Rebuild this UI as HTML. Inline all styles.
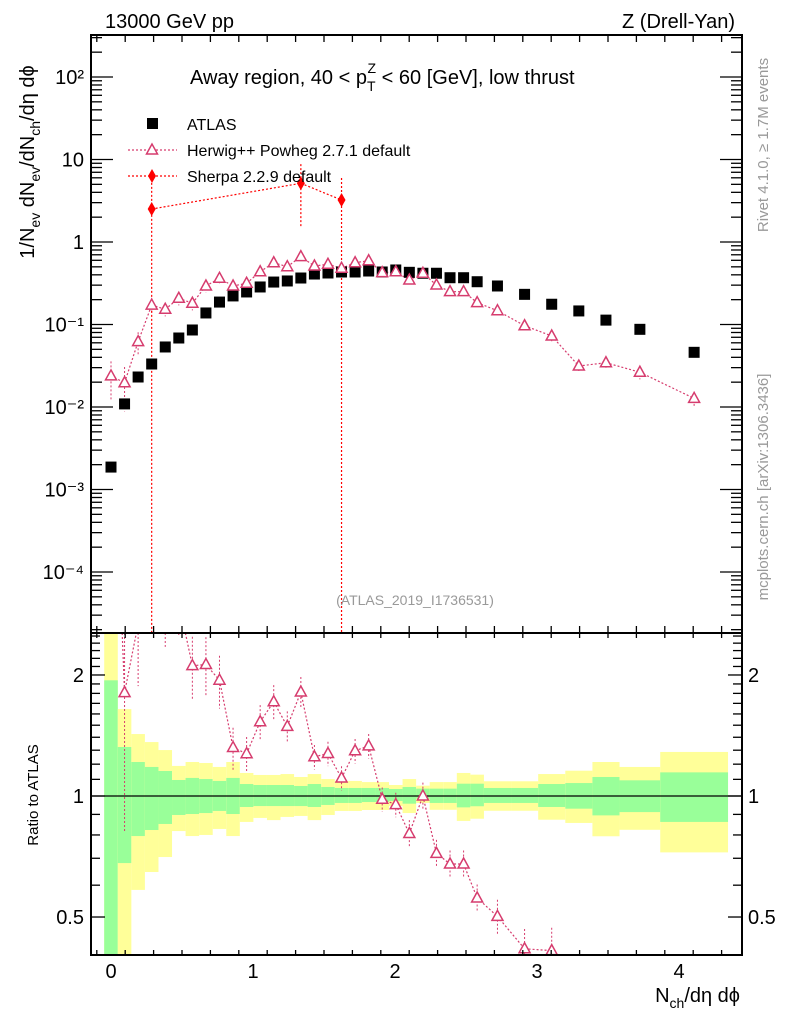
<!DOCTYPE html>
<html><head><meta charset="utf-8"><style>
html,body{margin:0;padding:0;background:#fff;width:786px;height:1024px;overflow:hidden;}
svg{display:block;font-family:"Liberation Sans",Arial,sans-serif;}
</style></head><body>
<svg id="chart" width="786" height="1024" viewBox="0 0 786 1024" xmlns="http://www.w3.org/2000/svg">
<rect x="0" y="0" width="786" height="1024" fill="#fff"/>
<g id="bands"></g>
<g id="marks"></g>
<g id="axes"></g>
<text x="105" y="28" font-size="20">13000 GeV pp</text>
<text x="735" y="28" font-size="20" text-anchor="end">Z (Drell-Yan)</text>
<text x="190" y="84" font-size="20">Away region, 40 &lt; p<tspan font-size="14" dy="7">T</tspan><tspan font-size="14" dx="-8" dy="-18">Z</tspan><tspan dy="11"> &lt; 60 [GeV], low thrust</tspan></text>
<text x="415" y="605" font-size="14" fill="#999" text-anchor="middle">(ATLAS_2019_I1736531)</text>
<text transform="translate(768,145) rotate(-90)" font-size="15" fill="#999" text-anchor="middle">Rivet 4.1.0, ≥ 1.7M events</text>
<text transform="translate(768,487) rotate(-90)" font-size="15" fill="#999" text-anchor="middle">mcplots.cern.ch [arXiv:1306.3436]</text>
<text transform="translate(34,162) rotate(-90)" font-size="20" text-anchor="middle">1/N<tspan font-size="14" dy="6">ev</tspan><tspan dy="-6"> dN</tspan><tspan font-size="14" dy="6">ev</tspan><tspan dy="-6">/dN</tspan><tspan font-size="14" dy="6">ch</tspan><tspan dy="-6">/dη dϕ</tspan></text>
<text transform="translate(38,795) rotate(-90)" font-size="15" text-anchor="middle">Ratio to ATLAS</text>
<text x="740" y="1002" font-size="20" text-anchor="end">N<tspan font-size="14" dy="6">ch</tspan><tspan dy="-6">/dη dϕ</tspan></text>
<g>
<rect x="147" y="118" width="11" height="11" fill="#000"/>
<text x="187" y="130" font-size="16">ATLAS</text>
<line x1="128" y1="150" x2="177" y2="150" stroke="#d63c6e" stroke-width="1.2" stroke-dasharray="2,2"/>
<path d="M152,144 L146.5,154 L157.5,154 Z" fill="#fff" stroke="#d63c6e" stroke-width="1.5"/>
<text x="187" y="156" font-size="16">Herwig++ Powheg 2.7.1 default</text>
<line x1="128" y1="176" x2="177" y2="176" stroke="#f00" stroke-width="1.2" stroke-dasharray="2,2"/>
<path d="M152,169 L156,176 L152,183 L148,176 Z" fill="#f00"/>
<text x="187" y="182" font-size="16">Sherpa 2.2.9 default</text>
</g>
</svg>
<script>
// ---- data ----
const atlasX = [0,0.0955,0.191,0.2865,0.382,0.4775,0.573,0.6685,0.764,0.8595,0.955,1.0505,1.146,1.2415,1.337,1.4325,1.528,1.6235,1.719,1.8145,1.91,2.0055,2.101,2.1965,2.292,2.3875,2.483,2.5785,2.7215,2.9125,3.1035,3.2945,3.4855,3.7245,4.1065];
const binLo = [-0.0478,0.0478,0.1433,0.2388,0.3343,0.4298,0.5253,0.6208,0.7163,0.8118,0.9073,1.0028,1.0983,1.1938,1.2893,1.3848,1.4803,1.5758,1.6713,1.7668,1.8623,1.9578,2.0533,2.1488,2.2443,2.3398,2.4353,2.5308,2.6263,2.8173,3.0083,3.1993,3.3903,3.5813,3.8678];
const binHi = [0.0478,0.1433,0.2388,0.3343,0.4298,0.5253,0.6208,0.7163,0.8118,0.9073,1.0028,1.0983,1.1938,1.2893,1.3848,1.4803,1.5758,1.6713,1.7668,1.8623,1.9578,2.0533,2.1488,2.2443,2.3398,2.4353,2.5308,2.6263,2.8173,3.0083,3.1993,3.3903,3.5813,3.8678,4.3453];
const atlasY = [0.00187,0.0109,0.0231,0.0332,0.0534,0.0686,0.0858,0.138,0.187,0.222,0.248,0.285,0.327,0.337,0.366,0.409,0.421,0.433,0.433,0.445,0.433,0.458,0.429,0.418,0.418,0.369,0.369,0.330,0.293,0.232,0.176,0.146,0.113,0.0874,0.046];
const herwigY = [0.0238,0.0197,0.0619,0.172,0.153,0.208,0.181,0.293,0.363,0.293,0.316,0.436,0.561,0.502,0.664,0.512,0.537,0.480,0.561,0.593,0.425,0.436,0.346,0.418,0.301,0.25,0.25,0.184,0.147,0.0967,0.0726,0.0314,0.0344,0.0264,0.0127];
const herwigRelErr = [0.5,0.55,0.3,0.2,0.18,0.18,0.18,0.17,0.15,0.12,0.1,0.1,0.1,0.09,0.09,0.07,0.07,0.07,0.07,0.07,0.07,0.07,0.08,0.08,0.08,0.08,0.08,0.08,0.1,0.12,0.14,0.15,0.15,0.18,0.2];
const yellowHi = [2.6,1.645,1.426,1.362,1.301,1.188,1.215,1.208,1.181,1.215,1.141,1.128,1.128,1.134,1.115,1.134,1.102,1.09,1.09,1.083,1.083,1.065,1.102,1.061,1.083,1.083,1.141,1.13,1.088,1.088,1.134,1.156,1.215,1.181,1.287];
const greenHi = [1.94,1.324,1.215,1.181,1.154,1.096,1.109,1.102,1.09,1.109,1.071,1.065,1.065,1.065,1.059,1.071,1.053,1.047,1.047,1.047,1.047,1.041,1.053,1.043,1.043,1.043,1.073,1.073,1.047,1.047,1.071,1.077,1.115,1.094,1.145];
const greenLo = [0.3,0.681,0.795,0.823,0.852,0.897,0.902,0.907,0.918,0.902,0.939,0.944,0.944,0.944,0.944,0.939,0.95,0.961,0.961,0.966,0.966,0.972,0.957,0.985,0.961,0.961,0.937,0.943,0.961,0.961,0.939,0.93,0.895,0.912,0.862];
const yellowLo = [0.3,0.3,0.584,0.647,0.705,0.818,0.795,0.80,0.828,0.795,0.862,0.882,0.871,0.887,0.892,0.871,0.897,0.918,0.918,0.923,0.923,0.944,0.907,0.961,0.924,0.924,0.867,0.878,0.919,0.919,0.873,0.857,0.794,0.824,0.724];
const sherpaX = [0.2865,1.337,1.6235];
const sherpaY = [2.51,5.15,3.23];
const sherpaErrHi = [6.5,8.8,5.96];
const sherpaErrLo = [0,1.52,0];
const xTicks = [0,1,2,3,4];
const yTicksMain = [-4,-3,-2,-1,0,1,2];
const yTickLabels = ["10\u207B\u2074","10\u207B\u00B3","10\u207B\u00B2","10\u207B\u00B9","1","10","10\u00B2"];
const ratioTicks = [0.5,1,2];
const ratioTickLabels = ["0.5","1","2"];

// ---- geometry ----
const L=91,R=742,T=35,MB=633,RB=955;
const X0=111,XS=142;
const xp = v => X0 + v*XS;
const Y1=242,DEC=82.5;
const yMain = v => Y1 - Math.log10(v)*DEC;
const R1=796,RDEC=402;
const yRat = v => R1 - Math.log10(v)*RDEC;
const cl = (y,a,b) => Math.min(b,Math.max(a,y));
const NS="http://www.w3.org/2000/svg";
function mk(tag, parent, attrs){const e=document.createElementNS(NS,tag);for(const k in attrs)e.setAttribute(k,attrs[k]);parent.appendChild(e);return e;}
const svg=document.getElementById('chart');
const bands=document.getElementById('bands');
const marks=document.getElementById('marks');
const axes=document.getElementById('axes');

for(let i=0;i<binLo.length;i++){
  const x1=xp(binLo[i]),w=xp(binHi[i])-x1;
  let yt=cl(yRat(yellowHi[i]),MB,RB), yb=cl(yRat(yellowLo[i]),MB,RB);
  let r=mk('rect',bands,{x:x1,y:yt,width:w,height:yb-yt,fill:'#ffff99'});
  
  
  yt=cl(yRat(greenHi[i]),MB,RB); yb=cl(yRat(greenLo[i]),MB,RB);
  r=mk('rect',bands,{x:x1,y:yt,width:w,height:yb-yt,fill:'#99ff99'});
  
  
}
mk('line',bands,{x1:L,x2:R,y1:yRat(1),y2:yRat(1),stroke:'#000','stroke-width':1.3});

const HC='#d63c6e';
function tri(g,x,y){return mk('path',g,{d:`M${x},${y-6} L${x-5.5},${y+4} L${x+5.5},${y+4} Z`,fill:'#fff',stroke:HC,'stroke-width':1.5});}
// clip segment to y range
function segs(g,P,a,b,col){
  for(let i=0;i<P.length-1;i++){
    let [x1,y1]=P[i],[x2,y2]=P[i+1];
    if((y1<a&&y2<a)||(y1>b&&y2>b))continue;
    const f=(yy)=>x1+(x2-x1)*(yy-y1)/(y2-y1);
    if(y1<a){x1=f(a);y1=a;} else if(y1>b){x1=f(b);y1=b;}
    if(y2<a){x2=f(a);y2=a;} else if(y2>b){x2=f(b);y2=b;}
    mk('line',g,{x1,y1,x2,y2,stroke:col,'stroke-width':1.2,'stroke-dasharray':'2,2'});
  }
}

// main herwig
segs(marks,atlasX.map((x,i)=>[xp(x),yMain(herwigY[i])]),T,MB,HC);
for(let i=0;i<atlasX.length;i++){
  const x=xp(atlasX[i]);
  mk('line',marks,{x1:x,x2:x,y1:cl(yMain(herwigY[i]*(1+herwigRelErr[i])),T,MB),y2:cl(yMain(herwigY[i]*Math.max(0.05,1-herwigRelErr[i])),T,MB),stroke:HC,'stroke-width':1,'stroke-dasharray':'2,2'});
}
segs(marks,sherpaX.map((x,i)=>[xp(x),yMain(sherpaY[i])]),T,MB,'#f00');
for(let i=0;i<sherpaX.length;i++){
  const x=xp(sherpaX[i]),y=yMain(sherpaY[i]);
  const lo=sherpaErrLo[i]>0?yMain(sherpaErrLo[i]):MB;
  mk('line',marks,{x1:x,x2:x,y1:cl(yMain(sherpaErrHi[i]),T,MB),y2:cl(lo,T,MB),stroke:'#f00','stroke-width':1.2,'stroke-dasharray':'2,2'});
  const d=mk('path',marks,{d:`M${x},${y-7} L${x+4},${y} L${x},${y+7} L${x-4},${y} Z`,fill:'#f00'});
  
  
}
for(let i=0;i<atlasX.length;i++){
  const s=mk('rect',marks,{x:xp(atlasX[i])-5.5,y:yMain(atlasY[i])-5.5,width:11,height:11,fill:'#000'});
  
  
}
for(let i=0;i<atlasX.length;i++){
  const t=tri(marks,xp(atlasX[i]),yMain(herwigY[i]));
  
  
}
// ratio herwig
const rat=herwigY.map((v,i)=>v/atlasY[i]);
segs(marks,atlasX.map((x,i)=>[xp(x),yRat(rat[i])]),MB,RB,HC);
for(let i=0;i<atlasX.length;i++){
  const x=xp(atlasX[i]);
  const a=yRat(rat[i]*(1+herwigRelErr[i])), b=yRat(rat[i]*Math.max(0.05,1-herwigRelErr[i]));
  if(b<MB||a>RB)continue;
  mk('line',marks,{x1:x,x2:x,y1:cl(a,MB,RB),y2:cl(b,MB,RB),stroke:HC,'stroke-width':1,'stroke-dasharray':'2,2'});
  const y=yRat(rat[i]);
  if(y<MB+6||y>RB-4)continue;
  const t=tri(marks,x,y);
  
  
}

mk('rect',axes,{x:L,y:T,width:R-L,height:MB-T,fill:'none',stroke:'#000','stroke-width':2});
mk('rect',axes,{x:L,y:MB,width:R-L,height:RB-MB,fill:'none',stroke:'#000','stroke-width':2});
function ln(x1,y1,x2,y2,w){mk('line',axes,{x1,y1,x2,y2,stroke:'#000','stroke-width':w||1.3});}
for(let v=-0.1;v<=4.45;v+=0.2){
  const x=xp(v);if(x<L+1||x>R-1)continue;
  const maj=Math.abs(v-Math.round(v))<0.01;
  const lm=maj?15:7, lr=maj?9:5;
  ln(x,T,x,T+lm);ln(x,MB,x,MB-lm);ln(x,MB,x,MB+lr);ln(x,RB,x,RB-lr);
}
xTicks.forEach(v=>{const t=mk('text',axes,{x:xp(v),y:978,'font-size':20,'text-anchor':'middle'});t.textContent=v;
  
  });
for(let d=-5;d<=2;d++){
  for(let m=1;m<10;m++){
    const v=m*Math.pow(10,d);const y=yMain(v);if(y<T+1||y>MB-1)continue;
    const l=m===1?22:11;ln(L,y,L+l,y);ln(R,y,R-l,y);
  }
}
yTicksMain.forEach((d,i)=>{const t=mk('text',axes,{x:84,y:yMain(Math.pow(10,d))+7,'font-size':20,'text-anchor':'end'});t.textContent=yTickLabels[i];
  
  });
for(let v=0.4;v<=2.55;v+=0.1){
  const y=yRat(v);if(y<MB+1||y>RB-1)continue;
  const maj=[0.5,1,2].some(q=>Math.abs(q-v)<0.01);const l=maj?14:9;
  ln(L,y,L+l,y);ln(R,y,R-l,y);
}
ratioTicks.forEach((v,i)=>{
  let t=mk('text',axes,{x:84,y:yRat(v)+7,'font-size':20,'text-anchor':'end'});t.textContent=ratioTickLabels[i];
  
  
  t=mk('text',axes,{x:748,y:yRat(v)+7,'font-size':20});t.textContent=ratioTickLabels[i];
  
  
});
</script>
</body></html>
